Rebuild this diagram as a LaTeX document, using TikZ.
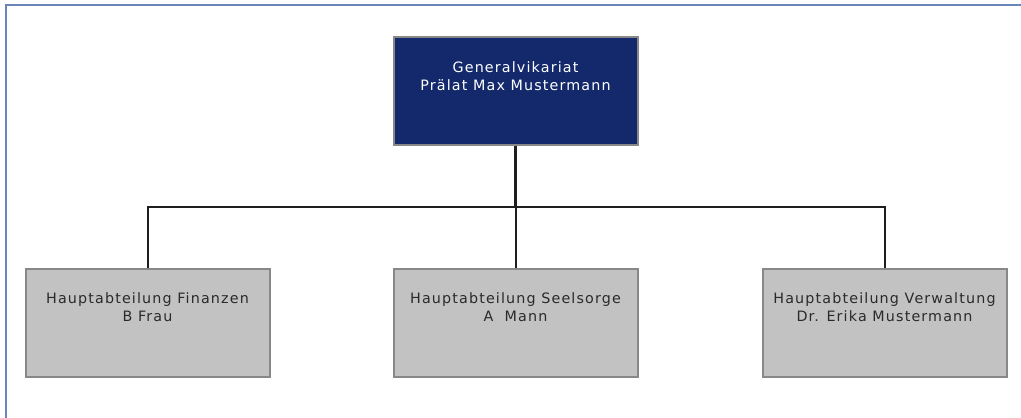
\documentclass[tikz,border=0pt]{standalone}
\usepackage{fontspec}
\setmainfont{DejaVu Sans}
\newfontfamily\boxfont[LetterSpace=8]{DejaVu Sans}
\begin{document}
\begin{tikzpicture}[x=1pt,y=-1pt,
  frameline/.style={draw=frameblue,line width=1.8pt},
  unitbox/.style={draw=boxedge,line width=2pt,minimum width=244pt,minimum height=108pt,inner sep=0pt},
  headbox/.style={unitbox,fill=navy},
  deptbox/.style={unitbox,fill=deptgray},
  caption/.style={align=center,font=\boxfont\fontsize{14.3}{17.5}\selectfont,inner sep=0pt},
  link/.style={draw=linkgray,line width=2pt},
  trunk/.style={draw=linkgray,line width=3pt}]
\definecolor{frameblue}{HTML}{6A86B8}
\definecolor{navy}{HTML}{13296B}
\definecolor{deptgray}{HTML}{C2C2C2}
\definecolor{boxedge}{HTML}{888888}
\definecolor{linkgray}{HTML}{1E1E1E}
\definecolor{darktext}{HTML}{2A2A2A}
\useasboundingbox (0,0) rectangle (1021,418);
% page frame (top and left edges)
\draw[frameline] (1021,5) -- (6,5) -- (6,418);
% boxes
\node[headbox] (gv) at (515.5,90.5) {};
\node[deptbox] (fin) at (147.5,322.5) {};
\node[deptbox] (see) at (515.5,322.5) {};
\node[deptbox] (ver) at (884.5,322.5) {};
% captions
\node[caption,text=white] (gvT) at (515.5,76) {Generalvikariat\\Prälat Max Mustermann};
\node[caption,text=darktext] (finT) at (147.5,307) {Hauptabteilung Finanzen\\B Frau};
\node[caption,text=darktext] (seeT) at (515.5,307) {Hauptabteilung Seelsorge\\A\ \ Mann};
\node[caption,text=darktext] (verT) at (884.5,307) {Hauptabteilung Verwaltung\\Dr. Erika Mustermann};
% connectors
\coordinate (bus) at (515.5,207);
\draw[trunk] (gv.south) -- (bus);
\draw[link] (fin.north) -- ++(0,-61) -| (ver.north);
\draw[link] (bus) -- (see.north);
\end{tikzpicture}
\end{document}
